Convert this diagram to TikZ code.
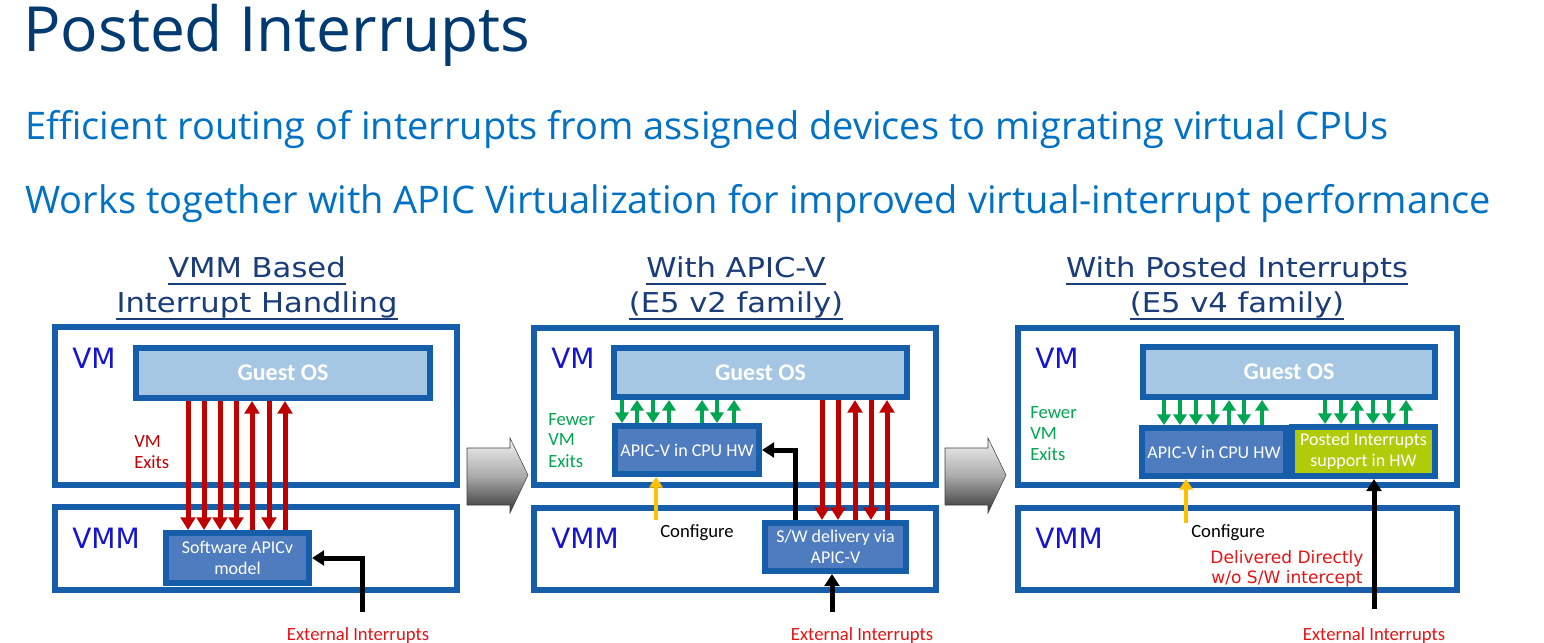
\documentclass[tikz,border=0pt]{standalone}
\usepackage{fontspec}
\setmainfont{Carlito}
\newfontfamily\opensans{Open Sans}
\newfontfamily\dejavu{DejaVu Sans}
\newfontfamily\verdanaish[FakeStretch=1.12]{DejaVu Sans}
\usetikzlibrary{arrows.meta}
\def\PX{0.75pt}
\definecolor{titlec}{RGB}{0,58,112}
\definecolor{subc}{RGB}{0,113,197}
\definecolor{headc}{RGB}{26,60,120}
\definecolor{framec}{RGB}{22,94,170}
\definecolor{guestc}{RGB}{166,199,227}
\definecolor{apicc}{RGB}{78,124,190}
\definecolor{postc}{RGB}{176,203,10}
\definecolor{vmc}{RGB}{20,20,210}
\definecolor{redc}{RGB}{192,0,0}
\definecolor{extc}{RGB}{230,20,20}
\definecolor{greenc}{RGB}{0,166,81}
\definecolor{yellowc}{RGB}{255,192,0}
\tikzset{
  frame/.style={draw=framec, line width=4.5pt, fill=white, inner sep=0},
  guest/.style={draw=framec, line width=4.5pt, fill=guestc, text=white, inner sep=0,
    font=\fontsize{18}{20}\selectfont\bfseries},
  hw/.style={draw=framec, line width=4.5pt, fill=apicc, text=white, inner sep=0, align=center,
    font=\fontsize{13.5}{15.5}\selectfont},
  lab/.style={inner sep=0, anchor=base west},
  clab/.style={inner sep=0, anchor=base},
  vmlab/.style={lab, text=vmc, font=\dejavu\fontsize{21}{24}\selectfont},
  head/.style={clab, text=headc, font=\verdanaish\fontsize{20.5}{24}\selectfont},
  uline/.style={headc, line width=1.5pt},
  redarr/.style={draw=redc, line width=3.75pt, -{Triangle[width=11pt,length=9.5pt]}},
  greenarr/.style={draw=greenc, line width=3pt, -{Triangle[width=10pt,length=8pt]}},
  yelarr/.style={draw=yellowc, line width=3pt, -{Triangle[width=10pt,length=8pt]}},
  blkarr/.style={draw=black, line width=3.75pt, -{Triangle[width=11pt,length=9pt]}},
  extlab/.style={clab, text=extc, font=\fontsize{14}{16}\selectfont},
  greenlab/.style={lab, text=greenc, font=\fontsize{14}{16}\selectfont},
  conflab/.style={lab, text=black, font=\fontsize{14}{16}\selectfont},
  chev/.style={top color=gray!10, bottom color=black!80, middle color=gray!65, draw=gray!50!black, line width=0.4pt}
}
\begin{document}
\begin{tikzpicture}[x=0.75pt,y=-0.75pt]
\useasboundingbox[fill=white] (0,0) rectangle (1544,642);

% titles
\node[lab, text=titlec, font=\opensans\fontsize{46.7}{52}\selectfont] (title) at (23,51) {Posted Interrupts};
\node[lab, text=subc, font=\opensans\fontsize{28.5}{32}\selectfont] (sub1) at (25,139) {Efficient routing of interrupts from assigned devices to migrating virtual CPUs};
\node[lab, text=subc, font=\opensans\fontsize{28.5}{32}\selectfont] (sub2) at (25,213) {Works together with APIC Virtualization for improved virtual-interrupt performance};

% headings
\node[head] (h1a) at (257,277) {VMM Based};
\node[head] (h1b) at (257,312) {Interrupt Handling};
\node[head] (h2a) at (736,277) {With APIC-V};
\node[head] (h2b) at (736,312) {(E5 v2 family)};
\node[head] (h3a) at (1237,277) {With Posted Interrupts};
\node[head] (h3b) at (1237,312) {(E5 v4 family)};
\foreach \h in {h1a,h1b,h2a,h2b,h3a,h3b}
  \draw[uline] ([yshift=-5.25pt]\h.base west) -- ([yshift=-5.25pt]\h.base east);

% ---------- panel 1 ----------
\node[frame, minimum width=402*\PX, minimum height=158*\PX] (vm1) at (256,406) {};
\node[frame, minimum width=402*\PX, minimum height=83*\PX] (vmm1) at (256,548.5) {};
\node[guest, minimum width=294*\PX, minimum height=50*\PX] (g1) at (283,373) {Guest OS};
\node[hw, minimum width=143*\PX, minimum height=50*\PX] (sw1) at (237.5,558) {Software APICv\\model};
\node[vmlab] (vml1) at (72,368) {VM};
\node[vmlab] (vmml1) at (72,548) {VMM};
\node[lab, text=redc, font=\fontsize{14}{16}\selectfont] (ex1a) at (134,447) {VM};
\node[lab, text=redc, font=\fontsize{14}{16}\selectfont] (ex1b) at (134,468) {Exits};
\foreach \x in {188,204,220,236,269}
  \draw[redarr] (g1.south -| \x,0) -- (sw1.north -| \x,0);
\foreach \x in {252,285}
  \draw[redarr] (sw1.north -| \x,0) -- (g1.south -| \x,0);
\coordinate (e1) at (362,612);
\draw[blkarr] (e1) |- (sw1.east);
\node[extlab] (ext1) at (358,640) {External Interrupts};

% chevron 1
\shade[chev] (467,448) -- (510,448) -- (510,438) -- (528,475) -- (510,513) -- (510,505) -- (467,505) -- cycle;

% ---------- panel 2 ----------
\node[frame, minimum width=402*\PX, minimum height=157*\PX] (vm2) at (735,406.5) {};
\node[frame, minimum width=402*\PX, minimum height=82*\PX] (vmm2) at (735,549) {};
\node[guest, minimum width=293*\PX, minimum height=49*\PX] (g2) at (760.5,372.5) {Guest OS};
\node[hw, minimum width=144*\PX, minimum height=48*\PX] (a2) at (687,450) {APIC-V in CPU HW};
\node[hw, minimum width=141*\PX, minimum height=48*\PX] (sw2) at (835.5,547) {S/W delivery via\\APIC-V};
\node[vmlab] (vml2) at (551,368) {VM};
\node[vmlab] (vmml2) at (551,548) {VMM};
\node[greenlab] (f2a) at (548,425) {Fewer};
\node[greenlab] (f2b) at (548,445) {VM};
\node[greenlab] (f2c) at (548,467) {Exits};
\foreach \x in {622,653,717}
  \draw[greenarr] (g2.south -| \x,0) -- (a2.north -| \x,0);
\foreach \x in {637,669,702,734}
  \draw[greenarr] (a2.north -| \x,0) -- (g2.south -| \x,0);
\foreach \x in {822,838,871}
  \draw[redarr] (g2.south -| \x,0) -- (sw2.north -| \x,0);
\foreach \x in {855,887}
  \draw[redarr] (sw2.north -| \x,0) -- (g2.south -| \x,0);
\coordinate (y2) at (656,520);
\draw[yelarr] (y2) -- (a2.south -| y2);
\node[conflab] (conf2) at (660,537) {Configure};
\draw[blkarr] (sw2.north -| 795,0) |- (a2.east);
\coordinate (e2) at (832,612);
\draw[blkarr] (e2) -- (sw2.south -| e2);
\node[extlab] (ext2) at (862,640) {External Interrupts};

% chevron 2
\shade[chev] (945,448) -- (988,448) -- (988,438) -- (1006,475) -- (988,513) -- (988,505) -- (945,505) -- cycle;

% ---------- panel 3 ----------
\node[frame, minimum width=439*\PX, minimum height=157*\PX] (vm3) at (1237.5,406.5) {};
\node[frame, minimum width=439*\PX, minimum height=82*\PX] (vmm3) at (1237.5,549) {};
\node[guest, minimum width=292*\PX, minimum height=50*\PX] (g3) at (1289,372) {Guest OS};
\node[hw, minimum width=144*\PX, minimum height=48*\PX] (a3) at (1214,452) {APIC-V in CPU HW};
\node[hw, fill=postc, minimum width=143*\PX, minimum height=49*\PX] (p3) at (1363.5,451.5) {Posted Interrupts\\support in HW};
\node[vmlab] (vml3) at (1035,368) {VM};
\node[vmlab] (vmml3) at (1035,548) {VMM};
\node[greenlab] (f3a) at (1030,418) {Fewer};
\node[greenlab] (f3b) at (1030,439) {VM};
\node[greenlab] (f3c) at (1030,460) {Exits};
\foreach \x in {1164,1180,1196,1213,1244}
  \draw[greenarr] (g3.south -| \x,0) -- (a3.north -| \x,0);
\foreach \x in {1229,1262}
  \draw[greenarr] (a3.north -| \x,0) -- (g3.south -| \x,0);
\foreach \x in {1325,1341,1373,1389}
  \draw[greenarr] (g3.south -| \x,0) -- (p3.north -| \x,0);
\foreach \x in {1357,1406}
  \draw[greenarr] (p3.north -| \x,0) -- (g3.south -| \x,0);
\coordinate (y3) at (1186,523);
\draw[yelarr] (y3) -- (a3.south -| y3);
\node[conflab] (conf3) at (1191,537) {Configure};
\node[clab, text=extc, font=\dejavu\fontsize{12.8}{15}\selectfont] (dd1) at (1287,563) {Delivered Directly};
\node[clab, text=extc, font=\dejavu\fontsize{12.8}{15}\selectfont] (dd2) at (1287,583) {w/o S/W intercept};
\coordinate (e3) at (1374,609);
\draw[blkarr] (e3) -- (p3.south -| e3);
\node[extlab] (ext3) at (1374,640) {External Interrupts};
\end{tikzpicture}
\end{document}
